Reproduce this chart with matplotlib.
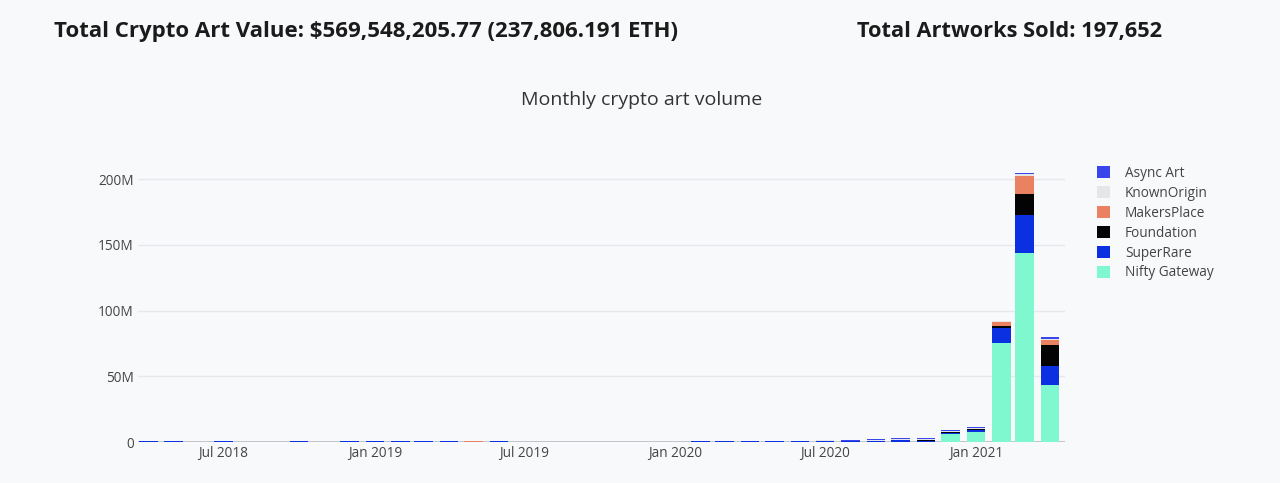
import matplotlib
matplotlib.use("Agg")
import matplotlib.pyplot as plt
import matplotlib.dates as mdates
from matplotlib.patches import Patch
from matplotlib.ticker import FuncFormatter
import numpy as np
import pandas as pd

# ---------------- data (USD, millions) ----------------
months = pd.date_range("2018-04-01", "2021-04-01", freq="MS")

nifty_gateway = [0, 0, 0, 0, 0, 0, 0, 0, 0, 0, 0, 0, 0, 0, 0,
                 0, 0, 0, 0, 0, 0, 0,
                 0, 0, 0, 0, 0, 0, 0, 0, 0, 0.3, 6.3, 7.9, 75.0, 143.5, 43.3]
super_rare = [0.7, 0.7, 0.05, 0.7, 0.05, 0.05, 0.7, 0.05, 0.7, 0.7, 0.7, 0.7, 0.7, 0.05, 0.7,
              0.05, 0.05, 0.05, 0.05, 0.05, 0.05, 0.05,
              0.7, 0.7, 0.7, 0.7, 0.8, 0.5, 0.9, 0.8, 1.2, 0.7, 0.8, 1.2, 11.7, 29.5, 14.7]
foundation = [0] * 30 + [0.2, 0.2, 0.3, 0.5, 1.5, 16.0, 15.8]
makers_place = [0, 0, 0, 0, 0, 0, 0, 0, 0, 0, 0, 0, 0, 0.7, 0,
                0, 0, 0, 0, 0, 0, 0,
                0, 0, 0, 0, 0, 0.6, 0, 0.2, 0.2, 0.3, 0.3, 0.4, 3.0, 13.5, 3.8]
known_origin = [0, 0, 0, 0, 0, 0, 0, 0, 0, 0, 0, 0, 0, 0, 0,
                0.3, 0.3, 0.3, 0.3, 0.3, 0.3, 0.3,
                0, 0, 0, 0, 0, 0.3, 0.1, 0.4, 0.5, 0.7, 0.6, 0.5, 0.6, 1.0, 0.7]
async_art = [0] * 27 + [0.1, 0.3, 0.6, 0.7, 0.6, 0.8, 0.9, 0.6, 1.2, 1.3]

series = [
    ("Nifty Gateway", nifty_gateway, "#7ff7cf"),
    ("SuperRare", super_rare, "#0b30e2"),
    ("Foundation", foundation, "#030303"),
    ("MakersPlace", makers_place, "#ea8160"),
    ("KnownOrigin", known_origin, "#e6e6e6"),
    ("Async Art", async_art, "#3846ec"),
]

title_left = "Total Crypto Art Value: $569,548,205.77 (237,806.191 ETH)"
title_right = "Total Artworks Sold: 197,652"
chart_title = "Monthly crypto art volume"
x_ticks = pd.to_datetime(["2018-07-01", "2019-01-01", "2019-07-01",
                          "2020-01-01", "2020-07-01", "2021-01-01"])
y_ticks = [0, 50, 100, 150, 200]

# ---------------- figure ----------------
BG = "#f8f9fb"
W, H = 1280, 483
fig = plt.figure(figsize=(W / 100, H / 100), dpi=100, facecolor=BG)
plt.rcParams["font.family"] = ["Open Sans", "DejaVu Sans"]

left, right, bottom, top = 138, 1065, 442, 158
ax = fig.add_axes([left / W, 1 - bottom / H, (right - left) / W, (bottom - top) / H])
ax.set_facecolor(BG)

xnum = mdates.date2num(months)
bar_w = 22.4
base = np.zeros(len(months))
for name, vals, col in series:
    v = np.array(vals, dtype=float)
    ax.bar(xnum, v, width=bar_w, bottom=base, color=col, label=name,
           linewidth=0, zorder=3)
    base += v

ax.set_xlim(mdates.date2num(pd.Timestamp("2018-03-19")),
            mdates.date2num(pd.Timestamp("2021-04-19")))
ax.set_ylim(0, 216)

ax.set_xticks(mdates.date2num(x_ticks))
ax.xaxis.set_major_formatter(mdates.DateFormatter("%b %Y"))
ax.set_yticks(y_ticks)
ax.yaxis.set_major_formatter(FuncFormatter(lambda v, p: "0" if v == 0 else f"{int(v)}M"))

ax.tick_params(axis="both", length=0, labelsize=9.8, colors="#444444")
ax.tick_params(axis="y", pad=3)
ax.tick_params(axis="x", pad=3)
for s in ax.spines.values():
    s.set_visible(False)
ax.grid(axis="y", color="#e6e8ec", linewidth=1, zorder=0)
ax.axhline(0, color="#b9bdc4", linewidth=1.2, zorder=2)

# titles
fig.text(54 / W, 1 - 32 / H, title_left, fontsize=16.0, fontweight="bold",
         color="#1b1b1b", ha="left", va="center")
fig.text(857 / W, 1 - 32 / H, title_right, fontsize=15.7, fontweight="bold",
         color="#1b1b1b", ha="left", va="center")
fig.text(642 / W, 1 - 100 / H, chart_title, fontsize=14, color="#333333",
         ha="center", va="center")

# legend (top-most trace first, like the reference)
handles = [Patch(facecolor=c, edgecolor="none", label=n) for n, _, c in reversed(series)]
fig.legend(handles=handles, loc="upper left", bbox_to_anchor=(1097 / W, 1 - 166 / H),
           frameon=False, fontsize=9.8, labelcolor="#444444",
           handlelength=0.95, handleheight=0.95, handletextpad=1.1,
           labelspacing=0.36, borderaxespad=0, borderpad=0)

fig.savefig("out.png", dpi=100, facecolor=BG)
